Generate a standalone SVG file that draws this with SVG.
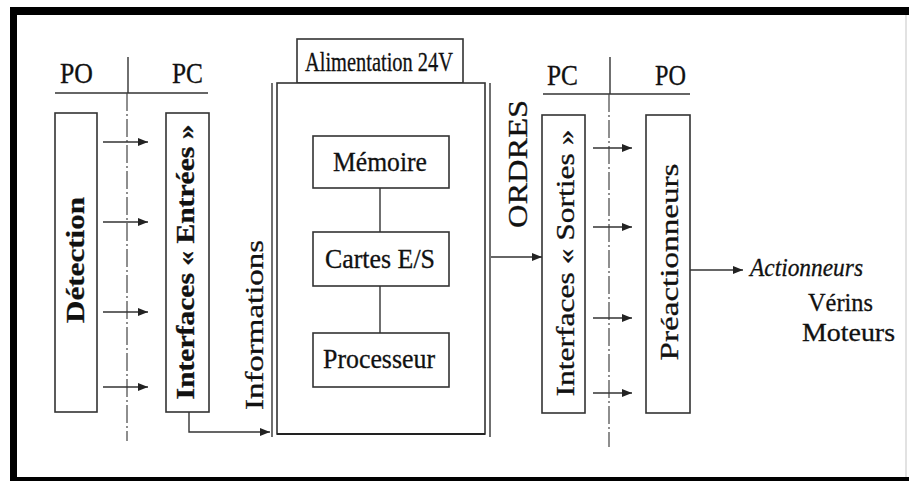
<svg xmlns="http://www.w3.org/2000/svg" width="909" height="481" viewBox="0 0 909 481">
<style>
  .box { fill: #fff; stroke: #333; stroke-width: 1.6; }
  .ln { fill: none; stroke: #333; stroke-width: 1.4; }
  .dd { fill: none; stroke: #444; stroke-width: 1.2; stroke-dasharray: 18 3 2 3; }
  .t { font-family: "Liberation Serif", "Times New Roman", "DejaVu Serif", serif; fill: #111; stroke: #111; stroke-width: 0.3; }
  .b { font-weight: bold; }
  .i { font-style: italic; }
</style>
<defs>
  <marker id="ah" viewBox="0 0 10 8" refX="10" refY="4" markerWidth="10" markerHeight="8" markerUnits="userSpaceOnUse" orient="auto">
    <path d="M0,0 L10,4 L0,8 Z" fill="#222"/>
  </marker>
</defs>
<rect width="909" height="481" fill="#fff"/>
<g id="frame">
  <rect x="10" y="7" width="899" height="8" fill="#000"/>
  <rect x="10" y="7" width="7" height="474" fill="#000"/>
  <rect x="10" y="477" width="899" height="4" fill="#000"/>
  <line x1="906" y1="15" x2="906" y2="477" stroke="#d8d8d8" stroke-width="1.5"/>
</g>
<g id="header-left">
  <text class="t" x="60" y="83" font-size="29" textLength="33" lengthAdjust="spacingAndGlyphs">PO</text>
  <text class="t" x="172" y="83" font-size="29" textLength="31" lengthAdjust="spacingAndGlyphs">PC</text>
  <line class="ln" x1="55" y1="93" x2="208" y2="93"/>
  <line class="ln" x1="128" y1="57" x2="128" y2="93"/>
</g>
<g id="header-right">
  <text class="t" x="547" y="85" font-size="29" textLength="31" lengthAdjust="spacingAndGlyphs">PC</text>
  <text class="t" x="655" y="85" font-size="29" textLength="31" lengthAdjust="spacingAndGlyphs">PO</text>
  <line class="ln" x1="543" y1="94" x2="690" y2="94"/>
  <line class="ln" x1="610" y1="57" x2="610" y2="94"/>
</g>
<g id="axes">
  <line class="dd" x1="127" y1="93" x2="127" y2="441"/>
  <line class="dd" x1="609" y1="94" x2="609" y2="447"/>
</g>
<g id="detection">
  <rect class="box" x="55" y="113" width="42" height="299"/>
  <text class="t b" transform="translate(84,260) rotate(-90)" text-anchor="middle" font-size="26" textLength="126" lengthAdjust="spacingAndGlyphs">Détection</text>
</g>
<g id="interfaces-entrees">
  <rect class="box" x="166" y="113" width="43" height="299"/>
  <text class="t b" transform="translate(194,262) rotate(-90)" text-anchor="middle" font-size="25" textLength="275" lengthAdjust="spacingAndGlyphs">Interfaces « Entrées »</text>
</g>
<g id="informations">
  <text class="t" transform="translate(263,325) rotate(-90)" text-anchor="middle" font-size="25" textLength="170" lengthAdjust="spacingAndGlyphs">Informations</text>
</g>
<g id="alimentation">
  <rect class="box" x="297" y="39" width="166" height="44"/>
  <text class="t" x="379" y="71" text-anchor="middle" font-size="28" textLength="148" lengthAdjust="spacingAndGlyphs">Alimentation 24V</text>
</g>
<g id="automate">
  <line class="ln" x1="272" y1="83" x2="272" y2="437"/>
  <line class="ln" x1="490" y1="83" x2="490" y2="437"/>
  <rect class="box" x="277" y="83" width="208" height="351"/>
  <line x1="277" y1="434" x2="485" y2="434" stroke="#222" stroke-width="2.2"/>
</g>
<g id="memoire">
  <rect class="box" x="313" y="136" width="136" height="52"/>
  <text class="t" x="380" y="171" text-anchor="middle" font-size="27" textLength="94" lengthAdjust="spacingAndGlyphs">Mémoire</text>
</g>
<g id="cartes">
  <rect class="box" x="313" y="232" width="136" height="54"/>
  <text class="t" x="380" y="268" text-anchor="middle" font-size="27" textLength="110" lengthAdjust="spacingAndGlyphs">Cartes E/S</text>
</g>
<g id="processeur">
  <rect class="box" x="313" y="333" width="136" height="54"/>
  <text class="t" x="379" y="368" text-anchor="middle" font-size="27" textLength="112" lengthAdjust="spacingAndGlyphs">Processeur</text>
</g>
<g id="ordres">
  <text class="t" transform="translate(527,164) rotate(-90)" text-anchor="middle" font-size="28" textLength="128" lengthAdjust="spacingAndGlyphs">ORDRES</text>
</g>
<g id="interfaces-sorties">
  <rect class="box" x="542" y="115" width="43" height="298"/>
  <text class="t" transform="translate(574,263) rotate(-90)" text-anchor="middle" font-size="25" textLength="267" lengthAdjust="spacingAndGlyphs">Interfaces « Sorties »</text>
</g>
<g id="preactionneurs">
  <rect class="box" x="646" y="115" width="44" height="298"/>
  <text class="t" transform="translate(678,262) rotate(-90)" text-anchor="middle" font-size="26" textLength="197" lengthAdjust="spacingAndGlyphs">Préactionneurs</text>
</g>
<g id="actionneurs">
  <text class="t i" x="750" y="276" font-size="26" textLength="113" lengthAdjust="spacingAndGlyphs">Actionneurs</text>
  <text class="t" x="808" y="311" font-size="26" textLength="65" lengthAdjust="spacingAndGlyphs">Vérins</text>
  <text class="t" x="802" y="341" font-size="26" textLength="93" lengthAdjust="spacingAndGlyphs">Moteurs</text>
</g>
<g id="connectors">
  <line class="ln" x1="103" y1="142" x2="148" y2="142" marker-end="url(#ah)"/>
  <line class="ln" x1="103" y1="222" x2="148" y2="222" marker-end="url(#ah)"/>
  <line class="ln" x1="103" y1="312" x2="148" y2="312" marker-end="url(#ah)"/>
  <line class="ln" x1="103" y1="387" x2="148" y2="387" marker-end="url(#ah)"/>
  <path class="ln" d="M189,412 V432 H270" marker-end="url(#ah)"/>
  <line class="ln" x1="380" y1="188" x2="380" y2="232"/>
  <line class="ln" x1="380" y1="286" x2="380" y2="333"/>
  <line class="ln" x1="491" y1="257" x2="542" y2="257" marker-end="url(#ah)"/>
  <line class="ln" x1="593" y1="148" x2="632" y2="148" marker-end="url(#ah)"/>
  <line class="ln" x1="593" y1="227" x2="632" y2="227" marker-end="url(#ah)"/>
  <line class="ln" x1="593" y1="318" x2="632" y2="318" marker-end="url(#ah)"/>
  <line class="ln" x1="593" y1="393" x2="632" y2="393" marker-end="url(#ah)"/>
  <line class="ln" x1="690" y1="270" x2="743" y2="270" marker-end="url(#ah)"/>
</g>
</svg>
